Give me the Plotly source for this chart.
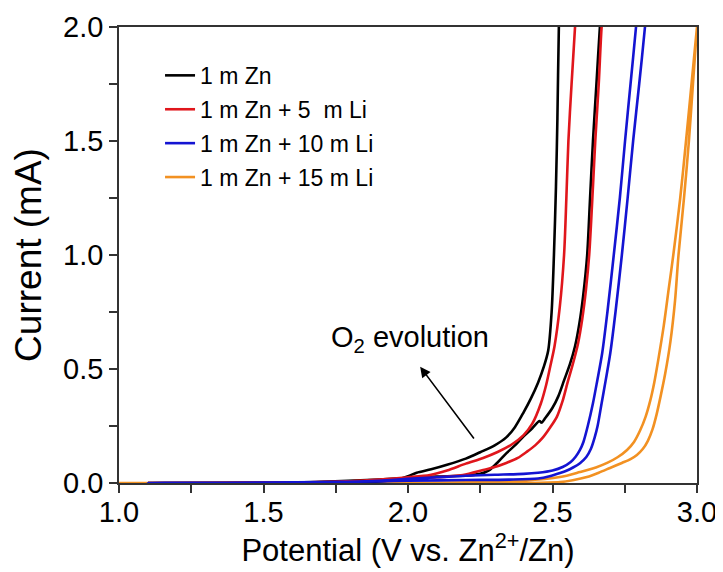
import plotly.graph_objects as go

# ---- data (potential in V, current in mA) ----
# each series: branch A (onset at lower potential) and branch B (higher-potential return branch)
zn_a_v = [1.1, 1.5, 1.8, 1.9, 1.96, 2.0, 2.03, 2.08, 2.135, 2.2, 2.25, 2.30, 2.34, 2.37, 2.40, 2.425, 2.45, 2.47, 2.485, 2.497, 2.505, 2.512, 2.517, 2.522, 2.525]
zn_a_i = [0.0, 0.002, 0.004, 0.007, 0.015, 0.03, 0.045, 0.06, 0.08, 0.107, 0.135, 0.165, 0.20, 0.245, 0.31, 0.37, 0.44, 0.51, 0.58, 0.75, 1.0, 1.3, 1.6, 2.0, 2.1]
zn_b_v = [1.1, 1.5, 1.7, 1.9, 2.0, 2.1, 2.2, 2.25, 2.28, 2.31, 2.34, 2.37, 2.40, 2.43, 2.455, 2.462, 2.475, 2.50, 2.52, 2.54, 2.56, 2.578, 2.593, 2.606, 2.62, 2.63, 2.64, 2.652, 2.664, 2.67]
zn_b_i = [0.0, 0.001, 0.005, 0.015, 0.022, 0.028, 0.033, 0.04, 0.055, 0.09, 0.13, 0.165, 0.205, 0.24, 0.272, 0.265, 0.285, 0.33, 0.38, 0.45, 0.52, 0.60, 0.70, 0.82, 1.0, 1.25, 1.5, 1.75, 2.0, 2.1]

li5_a_v = [1.1, 1.6, 1.8, 1.9, 2.0, 2.076, 2.135, 2.2, 2.26, 2.31, 2.36, 2.40, 2.43, 2.46, 2.478, 2.492, 2.507, 2.525, 2.54, 2.548, 2.555, 2.566, 2.578, 2.582]
li5_a_i = [0.0, 0.003, 0.008, 0.015, 0.025, 0.035, 0.055, 0.085, 0.11, 0.136, 0.17, 0.21, 0.26, 0.35, 0.43, 0.51, 0.60, 0.77, 1.0, 1.25, 1.5, 1.75, 2.0, 2.1]
li5_b_v = [1.1, 1.5, 1.85, 2.0, 2.1, 2.19, 2.26, 2.30, 2.34, 2.38, 2.41, 2.44, 2.467, 2.49, 2.515, 2.535, 2.552, 2.57, 2.588, 2.603, 2.616, 2.627, 2.64, 2.648, 2.66, 2.670, 2.678]
li5_b_i = [0.0, 0.0, 0.01, 0.02, 0.025, 0.035, 0.057, 0.07, 0.088, 0.11, 0.136, 0.165, 0.20, 0.24, 0.29, 0.36, 0.44, 0.52, 0.61, 0.72, 0.85, 1.0, 1.3, 1.5, 1.75, 2.0, 2.1]

li10_a_v = [1.1, 1.75, 1.9, 2.0, 2.1, 2.2, 2.30, 2.40, 2.45, 2.50, 2.535, 2.563, 2.58, 2.595, 2.607, 2.622, 2.64, 2.655, 2.672, 2.69, 2.712, 2.733, 2.751, 2.77, 2.789, 2.795]
li10_a_i = [0.0, 0.004, 0.01, 0.018, 0.025, 0.032, 0.036, 0.04, 0.045, 0.055, 0.07, 0.092, 0.115, 0.145, 0.18, 0.25, 0.35, 0.45, 0.57, 0.75, 1.0, 1.25, 1.5, 1.75, 2.0, 2.1]
li10_b_v = [1.1, 1.7, 1.9, 2.0, 2.2, 2.35, 2.45, 2.49, 2.526, 2.548, 2.571, 2.595, 2.617, 2.633, 2.646, 2.656, 2.670, 2.684, 2.70, 2.718, 2.740, 2.76, 2.779, 2.80, 2.820, 2.826]
li10_b_i = [0.0, 0.004, 0.007, 0.01, 0.013, 0.015, 0.02, 0.03, 0.044, 0.054, 0.068, 0.087, 0.114, 0.15, 0.20, 0.25, 0.35, 0.45, 0.57, 0.75, 1.0, 1.25, 1.5, 1.75, 2.0, 2.1]

li15_a_v = [1.0, 2.0, 2.2, 2.4, 2.526, 2.595, 2.65, 2.689, 2.725, 2.758, 2.782, 2.803, 2.822, 2.838, 2.852, 2.866, 2.885, 2.902, 2.918, 2.942, 2.962, 2.981, 3.0]
li15_a_i = [0.0, 0.0, 0.003, 0.01, 0.026, 0.048, 0.068, 0.088, 0.113, 0.145, 0.18, 0.23, 0.29, 0.36, 0.44, 0.54, 0.69, 0.85, 1.0, 1.25, 1.5, 1.75, 2.0]
li15_b_v = [1.0, 2.4, 2.526, 2.57, 2.619, 2.66, 2.699, 2.74, 2.77, 2.792, 2.813, 2.830, 2.846, 2.860, 2.874, 2.89, 2.908, 2.924, 2.936, 2.955, 2.972, 2.986, 3.0]
li15_b_i = [0.0, 0.0, 0.004, 0.012, 0.026, 0.045, 0.066, 0.088, 0.105, 0.123, 0.15, 0.185, 0.235, 0.30, 0.38, 0.48, 0.62, 0.80, 1.0, 1.25, 1.5, 1.75, 2.0]

series_names = ["1 m Zn", "1 m Zn + 5  m Li", "1 m Zn + 10 m Li", "1 m Zn + 15 m Li"]
series_colors = ["#000000", "#E0161C", "#1414D2", "#F29122"]
branches = [
    (zn_a_v, zn_a_i, zn_b_v, zn_b_i),
    (li5_a_v, li5_a_i, li5_b_v, li5_b_i),
    (li10_a_v, li10_a_i, li10_b_v, li10_b_i),
    (li15_a_v, li15_a_i, li15_b_v, li15_b_i),
]
draw_order = [3, 0, 1, 2]   # orange drawn underneath, blue on top (as in the reference)

x_ticks = [1.0, 1.5, 2.0, 2.5, 3.0]
y_ticks = [0.0, 0.5, 1.0, 1.5, 2.0]

FONT = "Liberation Sans, Arial, sans-serif"

fig = go.Figure()
for k in draw_order:
    name, color = series_names[k], series_colors[k]
    av, ai, bv, bi = branches[k]
    xs = list(av) + list(reversed(bv))
    ys = list(ai) + list(reversed(bi))
    fig.add_trace(go.Scatter(
        x=xs, y=ys, mode="lines", name=name, legendgroup=f"g{k}", legendrank=k + 1,
        line=dict(color=color, width=2.6, shape="spline", smoothing=0.8),
    ))

# arrow and label "O2 evolution"
fig.add_annotation(x=2.042, y=0.51, ax=2.232, ay=0.189, xref="x", yref="y",
                   axref="x", ayref="y", text="", showarrow=True,
                   arrowhead=2, arrowsize=1.3, arrowwidth=1.6, arrowcolor="#000000",
                   standoff=0, startstandoff=0)
fig.add_annotation(x=2.007, y=0.63, xref="x", yref="y", text="O<sub>2</sub> evolution",
                   showarrow=False, font=dict(family=FONT, size=29, color="#000000"))

axis_common = dict(
    showgrid=False, zeroline=False, showline=True, linecolor="#333333", linewidth=1.5,
    mirror=True, ticks="outside", ticklen=8, tickwidth=1.5, tickcolor="#333333",
    tickfont=dict(family=FONT, size=29, color="#000000"), automargin=False,
)
fig.update_xaxes(
    range=[1.0, 3.0], tickvals=x_ticks, ticktext=[f"{v:.1f}" for v in x_ticks],
    ticklabelstandoff=-6,
    minor=dict(dtick=0.25, ticks="outside", ticklen=8, tickwidth=1.5, tickcolor="#333333"),
    title=dict(text="Potential (V vs. Zn<sup>2+</sup>/Zn)", standoff=0,
               font=dict(family=FONT, size=31, color="#000000")),
    **axis_common,
)
fig.update_yaxes(
    range=[0.0, 2.0], tickvals=y_ticks, ticktext=[f"{v:.1f}" for v in y_ticks],
    minor=dict(dtick=0.25, ticks="outside", ticklen=8, tickwidth=1.5, tickcolor="#333333"),
    title=dict(text="Current (mA)", standoff=10,
               font=dict(family=FONT, size=37, color="#000000")),
    **axis_common,
)

# the page body adds an 8 px offset, so margins are set to land the plot area
# at the reference position (x 119-697, y 27-483 in the page)
fig.update_layout(
    width=723, height=572,
    margin=dict(l=111, r=34, t=19, b=97),
    paper_bgcolor="white", plot_bgcolor="white",
    showlegend=True,
    legend=dict(x=0.071, y=0.941, xanchor="left", yanchor="top",
                font=dict(family=FONT, size=23, color="#000000"),
                bgcolor="rgba(0,0,0,0)", tracegroupgap=1, itemwidth=30),
)

fig.write_html("out.html")
